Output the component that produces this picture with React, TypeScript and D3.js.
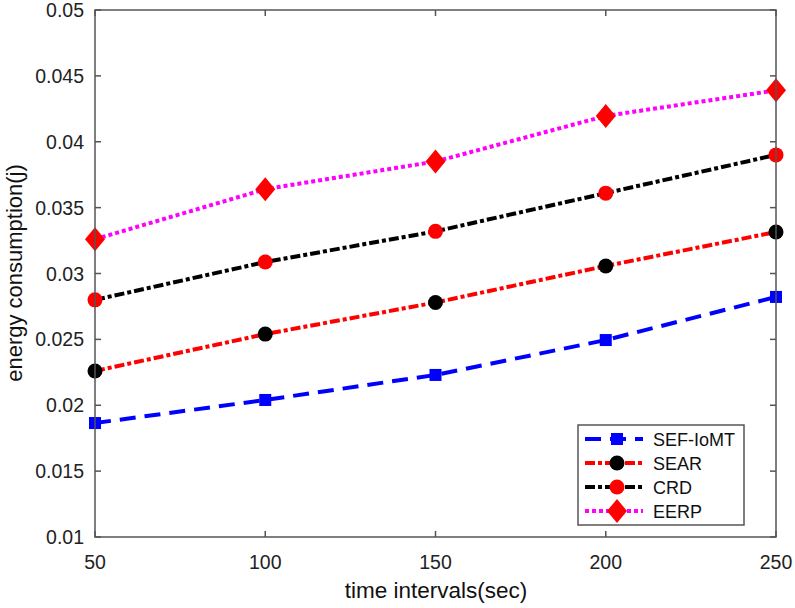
import React from "react";
import * as d3 from "d3";

const xValues = [50, 100, 150, 200, 250];
const sefIoMT = [0.01865, 0.0204, 0.0223, 0.02495, 0.02822];
const sear = [0.0226, 0.0254, 0.0278, 0.03057, 0.03315];
const crd = [0.028, 0.03087, 0.0332, 0.0361, 0.039];
const eerp = [0.0326, 0.0364, 0.0385, 0.04196, 0.0439];
const xTicks = [50, 100, 150, 200, 250];
const yTicks = [0.01, 0.015, 0.02, 0.025, 0.03, 0.035, 0.04, 0.045, 0.05];
const seriesNames = ["SEF-IoMT", "SEAR", "CRD", "EERP"];

type Series = {
  name: string;
  values: number[];
  color: string;
  dash: string;
  marker: "square" | "circle" | "diamond";
  markerColor: string;
};

const series: Series[] = [
  { name: seriesNames[0], values: sefIoMT, color: "#0000ff", dash: "16,9", marker: "square", markerColor: "#0000ff" },
  { name: seriesNames[1], values: sear, color: "#ff0000", dash: "10,3,4,3", marker: "circle", markerColor: "#000000" },
  { name: seriesNames[2], values: crd, color: "#000000", dash: "10,3,4,3", marker: "circle", markerColor: "#ff0000" },
  { name: seriesNames[3], values: eerp, color: "#ff00ff", dash: "4,3", marker: "diamond", markerColor: "#ff0000" },
];

function Marker({ type, x, y, color }: { type: string; x: number; y: number; color: string }) {
  if (type === "square") return <rect x={x - 6} y={y - 6} width={12} height={12} fill={color} />;
  if (type === "circle") return <circle cx={x} cy={y} r={7.5} fill={color} />;
  return <path d={`M${x},${y - 12}L${x + 10},${y}L${x},${y + 12}L${x - 10},${y}Z`} fill={color} />;
}

export default function App() {
  const W = 795, H = 608;
  const L = 95, R = 776, T = 10, B = 537;
  const x = d3.scaleLinear().domain([50, 250]).range([L, R]);
  const y = d3.scaleLinear().domain([0.01, 0.05]).range([B, T]);
  const line = d3.line<number>().x((_, i) => x(xValues[i])).y((d) => y(d));
  const font = "Liberation Sans, Arial, sans-serif";
  const axisColor = "#555";
  const legX = 578, legY = 425, legW = 166, legH = 100;
  return (
    <svg width={W} height={H} style={{ position: "absolute", left: 0, top: 0, background: "#fff" }} fontFamily={font}>
      <rect x={0} y={0} width={W} height={H} fill="#fff" />
      {series.map((s) => (
        <path key={s.name} d={line(s.values) || ""} fill="none" stroke={s.color} strokeWidth={4} strokeDasharray={s.dash} />
      ))}
      {series.map((s) =>
        s.values.map((v, i) => <Marker key={s.name + i} type={s.marker} x={x(xValues[i])} y={y(v)} color={s.markerColor} />)
      )}
      <rect x={L} y={T} width={R - L} height={B - T} fill="none" stroke={axisColor} strokeWidth={1.5} />
      {yTicks.map((t) => (
        <g key={"y" + t}>
          <line x1={L} x2={L + 6} y1={y(t)} y2={y(t)} stroke={axisColor} strokeWidth={1.5} />
          <line x1={R} x2={R - 6} y1={y(t)} y2={y(t)} stroke={axisColor} strokeWidth={1.5} />
          <text x={L - 11} y={y(t) + 7} textAnchor="end" fontSize={19.5} fill="#222">{String(t)}</text>
        </g>
      ))}
      {xTicks.map((t) => (
        <g key={"x" + t}>
          <line x1={x(t)} x2={x(t)} y1={B} y2={B - 6} stroke={axisColor} strokeWidth={1.5} />
          <line x1={x(t)} x2={x(t)} y1={T} y2={T + 6} stroke={axisColor} strokeWidth={1.5} />
          <text x={x(t)} y={569} textAnchor="middle" fontSize={19.5} fill="#222">{String(t)}</text>
        </g>
      ))}
      <text x={436} y={598} textAnchor="middle" fontSize={22.5} fill="#111">time intervals(sec)</text>
      <text transform={`translate(22,273) rotate(-90)`} textAnchor="middle" fontSize={22} fill="#111">energy consumption(j)</text>
      <rect x={legX} y={legY} width={legW} height={legH} fill="#fff" stroke={axisColor} strokeWidth={1.5} />
      {series.map((s, i) => {
        const cy = legY + 14 + i * 24;
        return (
          <g key={"leg" + s.name}>
            <line x1={585} x2={643} y1={cy} y2={cy} stroke={s.color} strokeWidth={4} strokeDasharray={s.dash} />
            <Marker type={s.marker} x={617} y={cy} color={s.markerColor} />
            <text x={653} y={cy + 7} fontSize={18} fill="#111">{s.name}</text>
          </g>
        );
      })}
    </svg>
  );
}
